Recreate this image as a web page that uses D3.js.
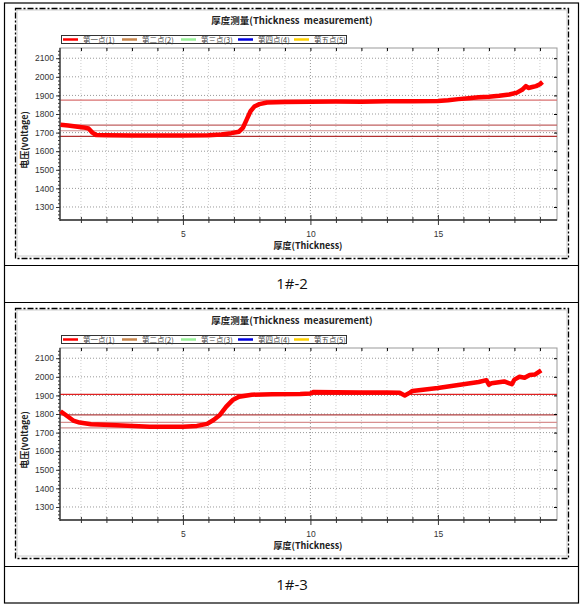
<!DOCTYPE html>
<html>
<head>
<meta charset="utf-8">
<script src="https://cdn.jsdelivr.net/npm/d3@7"></script>
<style>
body { margin: 0; background: #fff; }
text { font-family: "Liberation Sans", Arial, sans-serif; }
.cjk { font-family: "Noto Sans CJK SC", "Liberation Sans", sans-serif; }
</style>
</head>
<body>
<div id="chart"></div>
<script>
// thickness readings, chart 1#-2
var x1 = [0.2, 0.5, 0.8, 1.1, 1.3, 1.45, 1.6, 2.0, 3.0, 4.0, 5.0, 6.0, 6.5, 6.9, 7.2, 7.35, 7.5, 7.65, 7.8, 8.0, 8.3, 9.0, 10.0, 11.0, 12.0, 13.0, 14.0, 15.0, 15.4, 15.8, 16.2, 16.6, 17.0, 17.4, 17.8, 18.1, 18.3, 18.45, 18.55, 18.7, 18.85, 19.0, 19.1];
var y1 = [1742, 1738, 1733, 1728, 1722, 1700, 1687, 1686, 1685, 1685, 1685, 1686, 1690, 1697, 1705, 1725, 1770, 1815, 1840, 1853, 1862, 1864, 1866, 1867, 1866, 1868, 1868, 1870, 1874, 1880, 1885, 1890, 1893, 1898, 1905, 1915, 1930, 1950, 1940, 1945, 1950, 1960, 1972];
var ref1 = [1875, 1740, 1710, 1680];

// chart 1#-3
var x2 = [0.2, 0.35, 0.5, 0.7, 0.95, 1.4, 2.4, 3.7, 5.0, 5.55, 5.95, 6.2, 6.45, 6.7, 6.95, 7.2, 7.7, 8.5, 9.6, 10.0, 10.1, 11.0, 12.0, 13.0, 13.5, 13.7, 13.9, 14.0, 15.0, 16.0, 16.6, 16.9, 17.0, 17.1, 17.6, 17.9, 18.0, 18.2, 18.4, 18.6, 18.8, 19.05];
var y2 = [1815, 1800, 1785, 1765, 1754, 1745, 1740, 1732, 1732, 1736, 1747, 1768, 1795, 1840, 1875, 1893, 1904, 1906, 1907, 1910, 1918, 1917, 1916, 1916, 1914, 1900, 1915, 1924, 1940, 1960, 1972, 1982, 1958, 1965, 1975, 1960, 1985, 2000, 1995, 2010, 2012, 2035];
var ref2 = [1906, 1795, 1755, 1725];

var captions = ["1#-2", "1#-3"];
var yTicks = [1300, 1400, 1500, 1600, 1700, 1800, 1900, 2000, 2100];
var xTicks = [5, 10, 15];
var legendNames = ["第一点(1)", "第二点(2)", "第三点(3)", "第四点(4)", "第五点(5)"];
var legendColors = ["#ff0000", "#c8864c", "#98f098", "#0000e0", "#ffd000"];
var refColors = [["#d87070", "#c06060", "#d09090", "#b03030"], ["#e02020", "#b04040", "#d89090", "#d09090"]];

var W = 584, H = 607;
var svg = d3.select("#chart").append("svg")
    .attr("width", W)
    .attr("height", H);

// table borders
var tbl = svg.append("g").attr("stroke", "#000").attr("stroke-width", 1.2).attr("fill", "none");
tbl.append("rect").attr("x", 4.5).attr("y", 3).attr("width", 574).attr("height", 600);
[265.5, 302.5, 566.5].forEach(function (yy) {
    tbl.append("line").attr("x1", 4.5).attr("x2", 578.5).attr("y1", yy).attr("y2", yy);
});
svg.selectAll(".cap")
    .data(captions)
    .enter().append("text")
    .attr("x", 292)
    .attr("y", function (d, i) { return i == 0 ? 289 : 590; })
    .attr("text-anchor", "middle")
    .style("font-family", "'Open Sans', 'DejaVu Sans', sans-serif")
    .style("font-size", "15px")
    .attr("fill", "#111")
    .text(function (d) { return d; });

// plot area
var margin = { left: 60, right: 557, top: 48, bottom: 220 };

function drawChart(oy, xs, ys, refs, rcol) {
    var g = svg.append("g").attr("transform", "translate(0," + oy + ")");

    // dash-dot frame of the picture
    g.append("rect").attr("x", 17).attr("y", 10).attr("width", 550).attr("height", 246)
        .attr("fill", "none").attr("stroke", "#ccc");
    g.append("rect").attr("x", 15.5).attr("y", 8.5).attr("width", 553).attr("height", 250)
        .attr("fill", "none").attr("stroke", "#000").attr("stroke-width", 1.3)
        .attr("stroke-dasharray", "6,2,2,2");

    var x = d3.scaleLinear().domain([0.18, 19.67]).range([margin.left, margin.right]);
    var y = d3.scaleLinear().domain([1230, 2155]).range([margin.bottom, margin.top]);

    // grid
    var minorX = d3.range(1, 20);
    g.selectAll(".vg").data(minorX).enter().append("line")
        .attr("x1", function (d) { return x(d); }).attr("x2", function (d) { return x(d); })
        .attr("y1", margin.top).attr("y2", margin.bottom)
        .attr("stroke", function (d) { return d % 5 == 0 ? "#999" : "#ccc"; })
        .attr("stroke-dasharray", "1,2");
    g.selectAll(".hg").data(yTicks).enter().append("line")
        .attr("x1", margin.left).attr("x2", margin.right)
        .attr("y1", function (d) { return y(d); }).attr("y2", function (d) { return y(d); })
        .attr("stroke", "#999")
        .attr("stroke-dasharray", "1,2");

    // frame
    g.append("rect").attr("x", margin.left).attr("y", margin.top)
        .attr("width", margin.right - margin.left).attr("height", margin.bottom - margin.top)
        .attr("fill", "none").attr("stroke", "#999");

    // reference lines
    g.selectAll(".ref").data(refs).enter().append("line")
        .attr("x1", margin.left).attr("x2", margin.right)
        .attr("y1", function (d) { return y(d); }).attr("y2", function (d) { return y(d); })
        .attr("stroke", function (d, i) { return rcol[i]; })
        .attr("stroke-width", 1.2);

    // y axis
    var ya = g.append("g").attr("transform", "translate(" + margin.left + ",0)")
        .call(d3.axisLeft(y).tickValues(d3.range(1240, 2160, 20)).tickSize(2).tickFormat(""));
    ya.select(".domain").remove();
    var yb = g.append("g").attr("transform", "translate(" + margin.left + ",0)")
        .call(d3.axisLeft(y).tickValues(yTicks).tickSize(4).tickPadding(2).tickFormat(d3.format("d")));
    yb.select(".domain").remove();
    yb.selectAll("text").style("font-size", "8.5px").attr("fill", "#333");
    g.selectAll(".tick line").attr("stroke", "#333");
    // right side small ticks
    g.append("g").attr("transform", "translate(" + margin.right + ",0)")
        .call(d3.axisRight(y).tickValues(yTicks).tickSize(-3).tickFormat(""))
        .select(".domain").remove();
    g.append("line").attr("x1", margin.left).attr("x2", margin.left)
        .attr("y1", margin.top).attr("y2", margin.bottom + 1).attr("stroke", "#333").attr("stroke-width", 1.3);

    // x axis
    var xa = g.append("g").attr("transform", "translate(0," + margin.bottom + ")")
        .call(d3.axisBottom(x).tickValues(minorX.filter(function (d) { return d % 5 != 0; })).tickSize(3).tickFormat(""));
    xa.select(".domain").remove();
    xa.selectAll(".tick line").attr("y1", -3).attr("stroke", "#333");
    var xb = g.append("g").attr("transform", "translate(0," + margin.bottom + ")")
        .call(d3.axisBottom(x).tickValues(xTicks).tickSize(5).tickPadding(6).tickFormat(d3.format("d")));
    xb.select(".domain").remove();
    xb.selectAll(".tick line").attr("y1", -5).attr("stroke", "#333");
    xb.selectAll("text").style("font-size", "8.5px").attr("fill", "#333");
    g.append("g").attr("transform", "translate(0," + margin.top + ")")
        .call(d3.axisTop(x).tickValues(minorX).tickSize(-3).tickFormat(""))
        .select(".domain").remove();
    g.append("line").attr("x1", margin.left).attr("x2", margin.right)
        .attr("y1", margin.bottom).attr("y2", margin.bottom).attr("stroke", "#333").attr("stroke-width", 1.5);

    // data line
    var pts = xs.map(function (d, i) { return [d, ys[i]]; });
    var line = d3.line()
        .x(function (d) { return x(d[0]); })
        .y(function (d) { return y(d[1]); });
    g.append("path")
        .datum(pts)
        .attr("d", line)
        .attr("fill", "none")
        .attr("stroke", "#ff0000")
        .attr("stroke-width", 4.5)
        .attr("stroke-linejoin", "round");

    // title and axis labels
    g.append("text").attr("class", "cjk").attr("x", 292).attr("y", 24)
        .attr("text-anchor", "middle").style("font-size", "9.5px").style("font-weight", "bold")
        .style("white-space", "pre")
        .attr("fill", "#222")
        .text("厚度测量(Thickness  measurement)");
    g.append("text").attr("class", "cjk").attr("x", 308).attr("y", 249)
        .attr("text-anchor", "middle").style("font-size", "9px").style("font-weight", "bold")
        .attr("fill", "#222").text("厚度(Thickness)");
    g.append("text").attr("class", "cjk")
        .attr("transform", "translate(28,140) rotate(-90)")
        .attr("text-anchor", "middle").style("font-size", "9px").style("font-weight", "bold")
        .attr("fill", "#222").text("电压(voltage)");

    // legend
    var lg = g.append("g");
    lg.append("rect").attr("x", 61.5).attr("y", 35.5).attr("width", 285).attr("height", 8)
        .attr("fill", "#fff").attr("stroke", "#333");
    var lx = [63, 122, 181, 238, 294];
    legendNames.forEach(function (n, i) {
        lg.append("line").attr("x1", lx[i]).attr("x2", lx[i] + 15).attr("y1", 39.5).attr("y2", 39.5)
            .attr("stroke", legendColors[i]).attr("stroke-width", 2.5);
        lg.append("text").attr("class", "cjk").attr("x", lx[i] + 20).attr("y", 42.5)
            .style("font-size", "7.5px").attr("fill", "#444").text(n);
    });
}

drawChart(0, x1, y1, ref1, refColors[0]);
drawChart(300, x2, y2, ref2, refColors[1]);
</script>
</body>
</html>
